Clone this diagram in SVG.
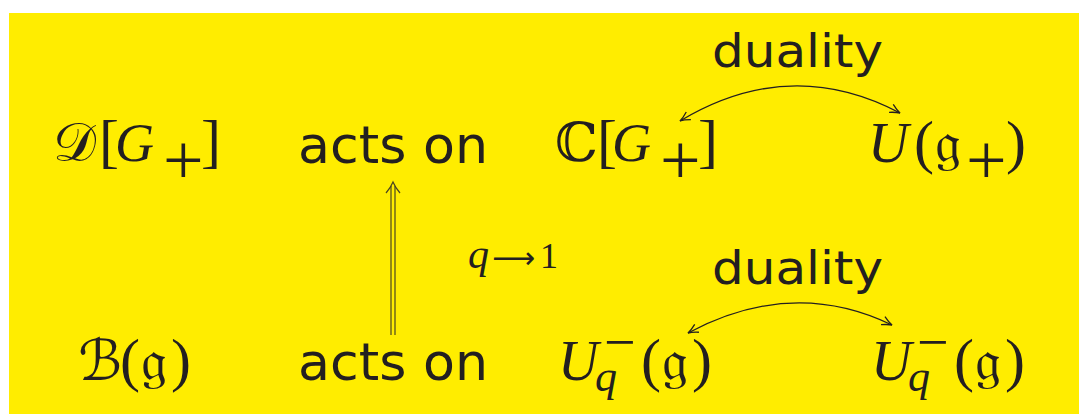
<svg xmlns="http://www.w3.org/2000/svg" width="1079" height="414" viewBox="0 0 1079 414">
<style>
.sans{font-family:"DejaVu Sans","Liberation Sans",sans-serif;fill:#231f20}
.m{font-family:"Liberation Serif","DejaVu Serif",serif;fill:#231f20}
.it{font-style:italic}
.sym{font-family:"DejaVu Serif","DejaVu Sans","Noto Sans",serif}
.br{font-size:60px}
.pl{font-size:72px}
.c{fill:none;stroke:#231f20;stroke-width:1.3}
</style>
<defs>
<marker id="ah" viewBox="-12 -6 14 12" markerWidth="14" markerHeight="12" refX="0" refY="0" orient="auto-start-reverse" markerUnits="userSpaceOnUse">
<path d="M-10,-4.5 Q-4,-1 0,0 Q-4,1 -10,4.5" fill="none" stroke="#231f20" stroke-width="1.3"/>
</marker>
</defs>
<rect x="9" y="13" width="1070" height="401" fill="#ffed00"/>
<g id="D_G">
<text class="m" y="161"><tspan class="sym" x="53" font-size="54">𝒟</tspan><tspan class="br" x="99">[</tspan><tspan class="it" x="115" font-size="54">G</tspan><tspan class="pl" x="163" y="184">+</tspan><tspan class="br" x="201" y="161">]</tspan></text>
</g>
<g id="acts1"><text class="sans" x="298" y="163" font-size="52" textLength="190" lengthAdjust="spacingAndGlyphs">acts on</text></g>
<g id="C_G">
<text class="m" y="161"><tspan class="sym" x="555" font-size="54">ℂ</tspan><tspan class="br" x="597">[</tspan><tspan class="it" x="612" font-size="54">G</tspan><tspan class="pl" x="660" y="184">+</tspan><tspan class="br" x="698" y="161">]</tspan></text>
</g>
<g id="U_g">
<text class="m" y="162"><tspan class="it" x="868" font-size="56">U</tspan><tspan class="br" x="914">(</tspan><tspan class="sym" x="935" font-size="58">𝔤</tspan><tspan class="pl" x="966" y="184">+</tspan><tspan class="br" x="1006" y="162">)</tspan></text>
</g>
<g id="dual1"><text class="sans" x="712" y="67" font-size="46" textLength="171" lengthAdjust="spacingAndGlyphs">duality</text></g>
<g id="B_g">
<text class="m" y="380"><tspan class="sym" x="78" font-size="56">ℬ</tspan><tspan class="br" x="120">(</tspan><tspan class="sym" x="141" font-size="58">𝔤</tspan><tspan class="br" x="171">)</tspan></text>
</g>
<g id="acts2"><text class="sans" x="298" y="380" font-size="52" textLength="190" lengthAdjust="spacingAndGlyphs">acts on</text></g>
<g id="Uq1">
<text class="m" y="380"><tspan class="it" x="558" font-size="56">U</tspan><tspan x="604" y="361" font-size="56">−</tspan><tspan class="it" x="595" y="391" font-size="44">q</tspan><tspan class="br" x="641" y="380">(</tspan><tspan class="sym" x="662" font-size="58">𝔤</tspan><tspan class="br" x="692">)</tspan></text>
</g>
<g id="Uq2">
<text class="m" y="380"><tspan class="it" x="871" font-size="56">U</tspan><tspan x="917" y="361" font-size="56">−</tspan><tspan class="it" x="908" y="391" font-size="44">q</tspan><tspan class="br" x="954" y="380">(</tspan><tspan class="sym" x="975" font-size="58">𝔤</tspan><tspan class="br" x="1005">)</tspan></text>
</g>
<g id="dual2"><text class="sans" x="712" y="284" font-size="46" textLength="171" lengthAdjust="spacingAndGlyphs">duality</text></g>
<g id="qlim">
<text class="m" y="268"><tspan class="it" x="468" font-size="42">q</tspan><tspan class="sans" x="492" font-size="30">⟶</tspan><tspan x="540" font-size="36">1</tspan></text>
</g>
<g id="connectors">
<path class="c" d="M680,121 Q790,55 900,113" marker-start="url(#ah)" marker-end="url(#ah)"/>
<path class="c" d="M688,333 Q793,277 892,325" marker-start="url(#ah)" marker-end="url(#ah)"/>
<g stroke="#4a4520" stroke-width="1.2" fill="none">
<line x1="391" y1="335" x2="391" y2="186"/>
<line x1="395" y1="335" x2="395" y2="186"/>
<path d="M386,193 Q391,187 393,182 Q395,187 400,193"/>
</g>
</g>
</svg>
